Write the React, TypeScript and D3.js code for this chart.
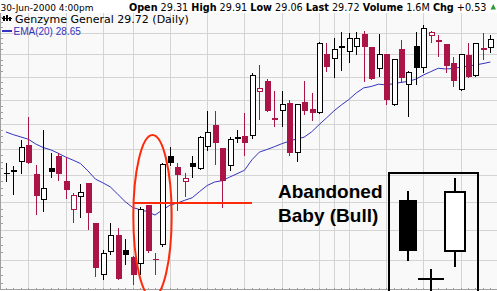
import React from 'react';
import * as d3 from 'd3';

const dates: string[] = [
  '2000-03-29', '2000-03-30', '2000-03-31',
  '2000-04-03', '2000-04-04', '2000-04-05', '2000-04-06', '2000-04-07',
  '2000-04-10', '2000-04-11', '2000-04-12', '2000-04-13', '2000-04-14',
  '2000-04-17', '2000-04-18', '2000-04-19', '2000-04-20',
  '2000-04-24', '2000-04-25', '2000-04-26', '2000-04-27', '2000-04-28',
  '2000-05-01', '2000-05-02', '2000-05-03', '2000-05-04', '2000-05-05',
  '2000-05-08', '2000-05-09', '2000-05-10', '2000-05-11', '2000-05-12',
  '2000-05-15', '2000-05-16', '2000-05-17', '2000-05-18', '2000-05-19',
  '2000-05-22', '2000-05-23', '2000-05-24', '2000-05-25', '2000-05-26',
  '2000-05-30', '2000-05-31',
  '2000-06-01', '2000-06-02',
  '2000-06-05', '2000-06-06', '2000-06-07', '2000-06-08', '2000-06-09',
  '2000-06-12', '2000-06-13', '2000-06-14', '2000-06-15', '2000-06-16',
  '2000-06-19', '2000-06-20', '2000-06-21', '2000-06-22', '2000-06-23',
  '2000-06-26', '2000-06-27', '2000-06-28', '2000-06-29', '2000-06-30',
];

const opens: number[] = [
  24.05, 24.20, 24.50, 25.15, 24.03, 23.07, 24.25, 24.72, 23.78, 22.72,
  23.16, 23.69, 22.25, 20.51, 21.26, 21.84, 21.33, 21.11, 20.86, 22.89,
  21.03, 21.48, 24.70, 24.29, 23.72, 24.44, 24.21, 25.06, 25.96, 25.02,
  24.34, 25.39, 25.51, 25.49, 27.35, 27.82, 26.25, 26.51, 26.88, 24.83,
  26.92, 26.62, 26.44, 29.01, 28.79, 29.38, 29.12, 29.35, 29.94, 29.32,
  28.34, 29.00, 26.78, 29.23, 27.64, 29.38, 28.38, 29.85, 29.66, 29.48,
  28.62, 27.42, 28.97, 28.03, 29.28, 29.31,
];
const highs: number[] = [
  24.45, 24.34, 25.35, 26.30, 24.38, 25.73, 24.85, 24.85, 24.67, 23.32,
  23.66, 23.70, 22.26, 21.31, 22.25, 22.07, 21.70, 21.12, 22.83, 22.90,
  21.22, 24.46, 25.06, 24.44, 24.08, 24.72, 25.49, 26.51, 26.54, 25.03,
  25.46, 25.73, 26.46, 28.17, 28.52, 27.88, 27.39, 27.39, 26.99, 26.84,
  27.82, 27.28, 29.55, 29.54, 29.74, 30.05, 30.00, 30.05, 30.10, 29.33,
  29.94, 29.01, 28.80, 29.66, 28.23, 30.05, 30.37, 30.06, 29.89, 29.49,
  28.89, 29.02, 29.53, 29.53, 30.00, 29.91,
];
const lows: number[] = [
  23.74, 23.26, 24.03, 24.40, 22.54, 22.65, 23.88, 23.78, 23.11, 22.25,
  22.42, 22.01, 20.44, 20.33, 21.17, 20.33, 20.84, 20.19, 20.51, 21.23,
  20.51, 21.44, 24.34, 22.69, 23.19, 23.87, 24.18, 24.93, 24.38, 22.78,
  24.15, 25.24, 24.72, 25.39, 26.16, 26.49, 25.89, 25.89, 24.72, 24.47,
  26.37, 26.13, 26.42, 28.22, 27.93, 28.25, 28.62, 28.97, 27.78, 27.85,
  28.00, 26.78, 26.74, 27.71, 26.27, 27.64, 28.16, 29.51, 28.89, 28.15,
  27.56, 27.39, 27.96, 27.98, 28.74, 29.06,
];
const closes: number[] = [
  24.03, 24.09, 25.06, 24.44, 23.23, 23.50, 24.10, 24.03, 23.42, 23.26,
  23.36, 22.60, 20.73, 21.22, 21.84, 20.37, 21.17, 20.51, 22.75, 21.28,
  21.02, 24.42, 24.44, 23.99, 23.87, 24.31, 25.46, 25.66, 25.24, 23.78,
  25.39, 25.46, 25.24, 28.07, 27.50, 26.51, 26.16, 26.83, 24.85, 26.81,
  26.51, 26.46, 29.54, 28.42, 29.23, 29.28, 29.74, 29.76, 29.32, 27.90,
  29.00, 26.99, 28.78, 27.93, 28.22, 28.38, 30.21, 30.05, 29.57, 28.45,
  27.81, 29.00, 27.97, 29.51, 29.19, 29.72,
];
const ema20: number[] = [
  25.67, 25.56, 25.47, 25.38, 25.19, 25.05, 24.96, 24.83, 24.68, 24.56,
  24.43, 24.15, 23.84, 23.70, 23.55, 23.28, 23.01, 22.80, 22.72, 22.65,
  22.53, 22.71, 22.88, 22.96, 23.06, 23.15, 23.38, 23.60, 23.73, 23.78,
  23.91, 24.04, 24.17, 24.57, 24.87, 24.97, 25.08, 25.20, 25.30, 25.39,
  25.46, 25.67, 25.96, 26.24, 26.53, 26.78, 27.01, 27.29, 27.51, 27.57,
  27.67, 27.64, 27.69, 27.75, 27.79, 27.89, 28.07, 28.22, 28.37, 28.34,
  28.36, 28.42, 28.47, 28.52, 28.58, 28.65,
];

const gridPrices: number[] = [21, 22, 23, 24, 25, 26, 27, 28, 29, 30];

// schematic inset: falling candle, doji, rising candle (arbitrary units 0-100)
const insetLabels: string[] = ['down', 'doji', 'up'];
const insetOpen: number[] = [76.9, 15.9, 37.7];
const insetHigh: number[] = [84.1, 23.6, 93.6];
const insetLow: number[] = [30.2, 6.2, 25.2];
const insetClose: number[] = [37.9, 15.9, 82.8];

const RED = '#aa1446';
const ANN = '#fe2a0a';
const BLUE = '#3434be';
const GRID = '#d4d4d4';

export default function App() {
  const W = 497;
  const H = 291;
  const top = 12.5;
  const bottom = 289.5;

  const x = d3.scalePoint<string>().domain(dates).range([5.9, 490.4]);
  const y = d3.scaleLog().domain([20, 30]).range([290.9, 32.7]);

  const px = (d: string) => Math.round(x(d) as number);

  const weekLines = dates.filter((d, i) => {
    if (i === 0) return false;
    const a = new Date(dates[i - 1] + 'T00:00:00Z');
    const b = new Date(d + 'T00:00:00Z');
    return b.getUTCDay() < a.getUTCDay() || b.getUTCMonth() !== a.getUTCMonth();
  });

  const minorTicks = d3.range(20.25, 31, 0.25).filter((p) => Math.abs(p - Math.round(p)) > 0.01);

  const emaLine = d3
    .line<number>()
    .x((_, i) => x(dates[i]) as number)
    .y((v) => y(v))(ema20) as string;

  // annotations anchored to the data
  const lineLevel = 22.96;
  const hx1 = x(dates[17]) as number;
  const hx2 = x(dates[33]) as number;
  const eLeft = (x(dates[17]) as number) + 0.7;
  const eRight = (x(dates[22]) as number) + 1.8;
  const eTop = y(25.55);
  const eBot = y(19.8);

  const ix = d3.scalePoint<string>().domain(insetLabels).range([408, 454.5]);
  const iy = d3.scaleLinear().domain([0, 100]).range([300, 170]);

  return (
    <svg
      width={W}
      height={H}
      style={{ position: 'absolute', left: 0, top: 0, background: '#ffffff' }}
      shapeRendering="crispEdges"
    >
      <rect x={0} y={top} width={W} height={bottom - top} fill="#f9f9f9" />

      {/* horizontal grid */}
      {gridPrices.map((p) => (
        <line key={'h' + p} x1={0} x2={W} y1={Math.round(y(p)) + 0.5} y2={Math.round(y(p)) + 0.5} stroke={GRID} />
      ))}
      {/* vertical grid */}
      {weekLines.map((d) => (
        <line key={'v' + d} x1={px(d) + 0.5} x2={px(d) + 0.5} y1={top} y2={bottom} stroke={GRID} />
      ))}

      {/* borders and ticks */}
      <line x1={0} x2={W} y1={top} y2={top} stroke="#a0a0a0" />
      <line x1={0.5} x2={0.5} y1={top} y2={bottom} stroke="#a0a0a0" />
      <line x1={0} x2={W} y1={bottom} y2={bottom} stroke="#a0a0a0" />
      {minorTicks.map((p) => {
        const yy = Math.round(y(p)) + 0.5;
        if (yy < top || yy > bottom) return null;
        return <line key={'t' + p} x1={0} x2={3} y1={yy} y2={yy} stroke="#a0a0a0" />;
      })}
      {dates.map((d) => (
        <line key={'bt' + d} x1={px(d) + 0.5} x2={px(d) + 0.5} y1={bottom - 2} y2={bottom} stroke="#a0a0a0" />
      ))}

      {/* EMA */}
      <path d={emaLine} fill="none" stroke={BLUE} strokeWidth={1} shapeRendering="auto" />

      {/* candles */}
      {dates.map((d, i) => {
        const o = opens[i];
        const c = closes[i];
        const prev = i > 0 ? closes[i - 1] : c;
        const col = c < prev ? RED : '#000000';
        const hollow = c > o;
        const cx = px(d);
        const yH = Math.round(y(highs[i]));
        const yL = Math.round(y(lows[i]));
        const yT = Math.round(y(Math.max(o, c)));
        const yB = Math.round(y(Math.min(o, c)));
        return (
          <g key={'c' + d}>
            <line x1={cx + 0.5} x2={cx + 0.5} y1={yH} y2={yL} stroke={col} />
            {hollow ? (
              <rect x={cx - 1.5} y={yT + 0.5} width={5} height={Math.max(1, yB - yT - 1)} fill="#ffffff" stroke={col} />
            ) : (
              <rect x={cx - 2} y={yT} width={6} height={Math.max(1, yB - yT)} fill={col} />
            )}
          </g>
        );
      })}

      {/* annotations */}
      <line x1={hx1} x2={hx2} y1={y(lineLevel)} y2={y(lineLevel)} stroke={ANN} strokeWidth={2} />
      <ellipse
        cx={(eLeft + eRight) / 2}
        cy={(eTop + eBot) / 2}
        rx={(eRight - eLeft) / 2}
        ry={(eBot - eTop) / 2}
        fill="none"
        stroke={ANN}
        strokeWidth={2}
        shapeRendering="auto"
      />
      <text x={278} y={198} fontFamily="'Liberation Sans', Arial, sans-serif" fontWeight="bold" fontSize={19} fill="#000">
        Abandoned
      </text>
      <text x={278} y={221.5} fontFamily="'Liberation Sans', Arial, sans-serif" fontWeight="bold" fontSize={19} fill="#000">
        Baby (Bull)
      </text>

      {/* inset illustration */}
      <rect x={389} y={173} width={89} height={130} fill="none" stroke="#000" strokeWidth={2} />
      {insetLabels.map((lab, i) => {
        const cx = ix(lab) as number;
        const o = insetOpen[i];
        const c = insetClose[i];
        const yH = iy(insetHigh[i]);
        const yL = iy(insetLow[i]);
        const yT = iy(Math.max(o, c));
        const yB = iy(Math.min(o, c));
        if (Math.abs(o - c) < 0.5) {
          return (
            <g key={lab}>
              <line x1={cx} x2={cx} y1={yH} y2={yL} stroke="#000" strokeWidth={2} />
              <line x1={cx - 13} x2={cx + 13} y1={yT} y2={yT} stroke="#000" strokeWidth={2} />
            </g>
          );
        }
        if (c > o) {
          return (
            <g key={lab}>
              <line x1={cx} x2={cx} y1={yH} y2={yL} stroke="#000" strokeWidth={2} />
              <rect x={cx - 10} y={yT} width={20} height={yB - yT} fill="#ffffff" stroke="#000" strokeWidth={2} />
            </g>
          );
        }
        return (
          <g key={lab}>
            <line x1={cx} x2={cx} y1={yH} y2={yL} stroke="#000" strokeWidth={2} />
            <rect x={cx - 9} y={yT} width={18} height={yB - yT} fill="#000" />
          </g>
        );
      })}

      {/* header */}
      <rect x={0} y={0} width={W} height={top} fill="#ffffff" />
      <text x={0.5} y={10.5} fontFamily="'DejaVu Sans', Verdana, sans-serif" fontSize={9} fill="#000">
        30-Jun-2000 4:00pm
      </text>
      <text x={129} y={10.5} fontFamily="'DejaVu Sans', Verdana, sans-serif" fontSize={9.66} fill="#000" xmlSpace="preserve">
        <tspan fontWeight="bold">Open</tspan>
        <tspan> 29.31 </tspan>
        <tspan fontWeight="bold">High</tspan>
        <tspan> 29.91 </tspan>
        <tspan fontWeight="bold">Low</tspan>
        <tspan> 29.06 </tspan>
        <tspan fontWeight="bold">Last</tspan>
        <tspan> 29.72 </tspan>
        <tspan fontWeight="bold">Volume</tspan>
        <tspan> 1.6M </tspan>
        <tspan fontWeight="bold">Chg</tspan>
        <tspan> +0.53</tspan>
      </text>
      <path d="M490.5,9.5 L496,9.5 L493.25,4 Z" fill="#2f9a35" shapeRendering="auto" />

      {/* legend */}
      <g fill="#000">
        <rect x={3} y={16} width={2} height={5} />
        <rect x={6} y={15} width={2} height={6} />
        <rect x={9} y={17} width={2} height={4} />
        <rect x={2} y={18} width={10} height={1} />
      </g>
      <text x={15} y={22.5} fontFamily="'DejaVu Sans', Verdana, sans-serif" fontSize={11} fill="#000">
        Genzyme General 29.72 (Daily)
      </text>
      <line x1={1.5} x2={11.5} y1={31} y2={31} stroke={BLUE} strokeWidth={1.5} />
      <text x={13.5} y={34.5} fontFamily="'Liberation Sans', Arial, sans-serif" fontSize={10} fill={BLUE}>
        EMA(20) 28.65
      </text>
    </svg>
  );
}
